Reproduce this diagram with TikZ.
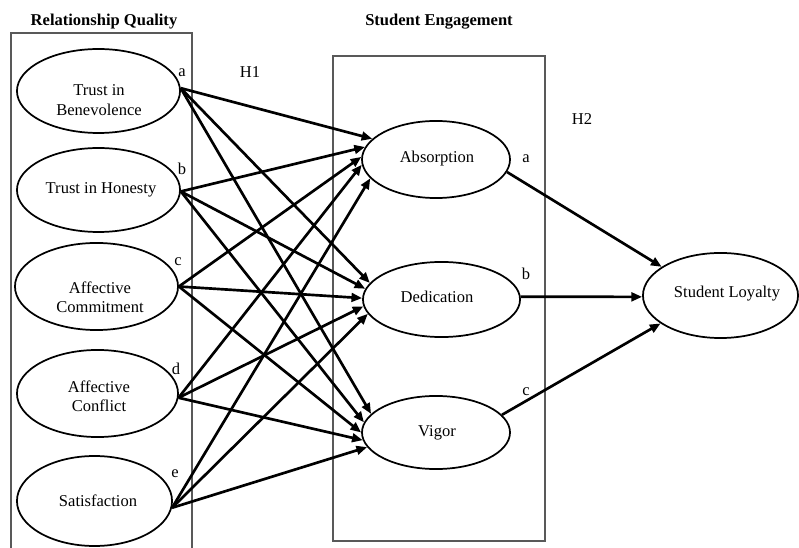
\documentclass[tikz,border=0pt]{standalone}
\usepackage{fontspec}
\setmainfont{Liberation Serif}
\usetikzlibrary{shapes.geometric,arrows.meta}
\tikzset{
  ell/.style={draw, ellipse, line width=1.3pt, inner sep=0pt},
  txt/.style={font=\fontsize{12.4}{14.5}\selectfont, align=center, inner sep=0pt},
  ttl/.style={font=\fontsize{12.4}{14.5}\selectfont\bfseries, inner sep=0pt},
  arr/.style={line width=2pt, -{Triangle[length=8pt,width=6.5pt]}},
  grpbox/.style={draw=black!65, line width=1pt}
}
\begin{document}
\begin{tikzpicture}[x=0.75pt,y=-0.75pt]
\useasboundingbox (0,0) rectangle (799,548);
% group boxes
\draw[grpbox] (11,33) rectangle (192,570);
\draw[grpbox] (333,56) rectangle (545,541);
% titles
\node[ttl] (t1) at (104,22) {Relationship Quality};
\node[ttl] (t2) at (439,22) {Student Engagement};
% left ellipses
\node[ell, minimum width=122.3pt, minimum height=63pt] (tib) at (98.5,91) {};
\node[ell, minimum width=122.3pt, minimum height=63pt] (tih) at (98.5,190) {};
\node[ell, minimum width=122.3pt, minimum height=65.3pt] (ac) at (96.5,286.5) {};
\node[ell, minimum width=120.8pt, minimum height=65.3pt] (afc) at (97.5,393.5) {};
\node[ell, minimum width=116.3pt, minimum height=67.5pt] (sat) at (94.5,501) {};
\node[txt] (tibt) at (99,100) {Trust in\\Benevolence};
\node[txt] (tiht) at (101,190) {Trust in Honesty};
\node[txt] (act) at (100,297) {Affective\\Commitment};
\node[txt] (afct) at (99,396) {Affective\\Conflict};
\node[txt] (satt) at (98,501) {Satisfaction};
% middle ellipses
\node[ell, minimum width=111pt, minimum height=57.8pt] (abs) at (436,159.5) {};
\node[ell, minimum width=117.8pt, minimum height=56.3pt] (ded) at (441.5,299.5) {};
\node[ell, minimum width=111pt, minimum height=54.8pt] (vig) at (436,432.5) {};
\node[txt] (abst) at (437,159) {Absorption};
\node[txt] (dedt) at (437,297) {Dedication};
\node[txt] (vigt) at (437,433) {Vigor};
% outcome
\node[ell, minimum width=116.3pt, minimum height=63.8pt] (sl) at (720.5,295.5) {};
\node[txt] (slt) at (727,294) {Student Loyalty};
% labels
\node[txt] (la) at (182,73) {a};
\node[txt] (lb) at (182,169) {b};
\node[txt] (lc) at (178,262) {c};
\node[txt] (ld) at (176,369) {d};
\node[txt] (le) at (175,474) {e};
\node[txt] (h1) at (250,72) {H1};
\node[txt] (h2) at (582,119) {H2};
\node[txt] (ra) at (526,159) {a};
\node[txt] (rb) at (526,274) {b};
\node[txt] (rc) at (526,392) {c};
% H1 arrows
\draw[arr] (tib.2) -- (abs.162);
\draw[arr] (tib.2) -- (ded.167);
\draw[arr] (tib.2) -- (vig.164);
\draw[arr] (tih.-1) -- (abs.170);
\draw[arr] (tih.-1) -- (ded.172);
\draw[arr] (tih.-1) -- (vig.172);
\draw[arr] (ac.0) -- (abs.178);
\draw[arr] (ac.0) -- (ded.179);
\draw[arr] (ac.0) -- (vig.180);
\draw[arr] (afc.-3) -- (abs.184);
\draw[arr] (afc.-3) -- (ded.185);
\draw[arr] (afc.-3) -- (vig.186);
\draw[arr] (sat.-5) -- (abs.196);
\draw[arr] (sat.-5) -- (ded.191);
\draw[arr] (sat.-5) -- (vig.192);
% H2 arrows
\draw[arr] (abs.-10) -- (sl.154);
\draw[arr] (ded.2) -- (sl.181);
\draw[arr] (vig.15) -- (sl.205);
\end{tikzpicture}
\end{document}
